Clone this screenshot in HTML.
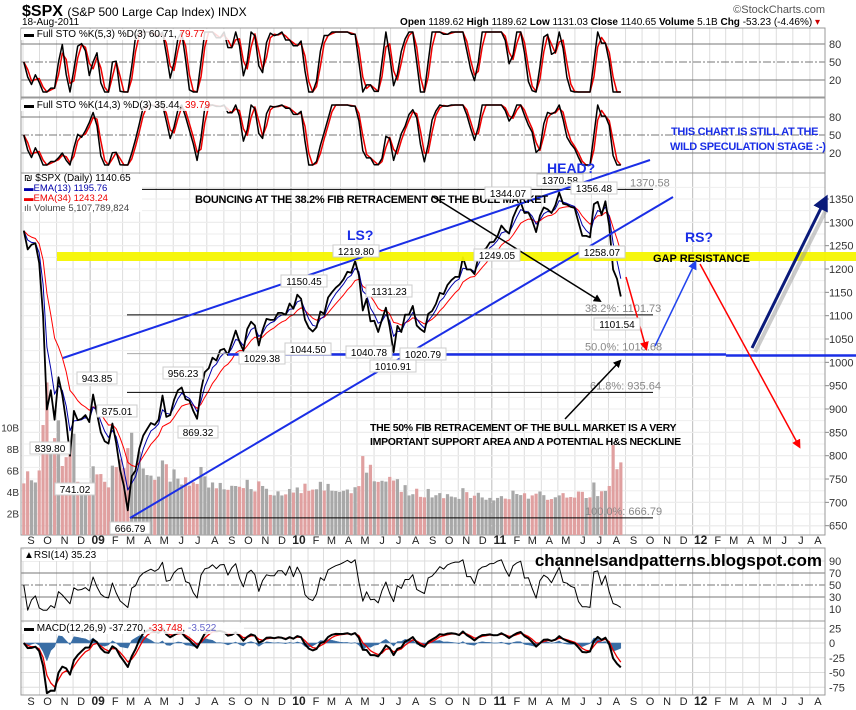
<!DOCTYPE html>
<html><head><meta charset="utf-8"><style>
html,body{margin:0;padding:0;background:#fff;}
svg{display:block;font-family:"Liberation Sans",sans-serif;}
</style></head><body>
<svg id="c" width="856" height="710" viewBox="0 0 856 710" xmlns="http://www.w3.org/2000/svg">
<g id="grid"></g>
<g id="marks"></g>
<g id="overlay"></g>
</svg>
<script>
// ---- data (weekly closes, S&P 500, ending 18-Aug-2011) ----
const closes = [1282,1242,1252,1255,1213,1099,899,940,877,968,930,873,800,896,876,879,887,872,931,890,850,831,826,869,827,770,735,683,756,768,816,843,857,870,866,877,929,883,887,919,940,946,921,918,896,879,940,979,987,1010,1004,1026,1029,1016,1042,1068,1044,1025,1071,1087,1079,1036,1069,1093,1091,1091,1106,1106,1102,1126,1115,1145,1136,1091,1074,1066,1075,1109,1104,1139,1150,1160,1167,1178,1194,1192,1217,1187,1111,1136,1088,1089,1065,1092,1117,1076,1022,1078,1065,1102,1102,1121,1079,1071,1065,1104,1110,1125,1149,1146,1166,1176,1183,1183,1225,1199,1199,1189,1225,1240,1244,1257,1258,1271,1293,1283,1276,1310,1329,1343,1320,1321,1304,1279,1314,1332,1328,1320,1337,1364,1340,1338,1333,1331,1300,1271,1271,1268,1339,1344,1316,1345,1292,1199,1179,1141];
const monthlyVolumeB = [6.0,7.5,6.2,5.3,5.3,5.8,6.6,6.2,6.0,5.6,5.2,5.2,4.8,4.8,4.6,4.6,4.6,5.0,4.8,4.8,6.2,5.3,4.6,4.2,4.2,4.2,4.3,4.0,4.0,4.3,4.2,4.0,4.3,4.3,4.4,6.8];
const monthLabels = ["S","O","N","D","09","F","M","A","M","J","J","A","S","O","N","D","10","F","M","A","M","J","J","A","S","O","N","D","11","F","M","A","M","J","J","A","S","O","N","D","12","F","M","A","M","J","J","A"];
const priceTicks = [1350,1300,1250,1200,1150,1100,1050,1000,950,900,850,800,750,700,650];
const volTicks = [10,8,6,4,2];
const stoTicks = [80,50,20];
const rsiTicks = [90,70,50,30,10];
const macdTicks = [25,0,-25,-50,-75];
const fibLevels = [1370.58,1101.73,1018.68,935.64,666.79];
const peakLabels = [["839.80",839.8,50,448],["741.02",741.02,75,489],["943.85",943.85,97,378],["875.01",875.01,117,411],["956.23",956.23,183,373],["869.32",869.32,198,432],["1029.38",1029.38,262,358],["1044.50",1044.5,308,349],["1150.45",1150.45,304,281],["1219.80",1219.8,356,251],["1131.23",1131.23,389,291],["1040.78",1040.78,369,352],["1010.91",1010.91,393,366],["1020.79",1020.79,423,354],["1249.05",1249.05,497,255],["1344.07",1344.07,508,193],["1370.58",1370.58,560,180],["1356.48",1356.48,594,188],["1258.07",1258.07,602,252],["1101.54",1101.54,617,324],["666.79",666.79,130,528]];

// ---- geometry ----
const X0=21, X1=825, MW=16.75, XS=23;
const startMs=Date.UTC(2008,8,1), endMs=Date.UTC(2011,7,18);
function xOfMs(ms){return XS+(ms-startMs)/86400000/30.44*MW;}
function xOfMonth(m){const d=Date.UTC(2008,8+m,1);return xOfMs(d);}
const n=closes.length;
function xi(i){return xOfMs(endMs-7*86400000*(n-1-i))+3;}
const py=p=>199+(1350-p)*0.4667;
const vy=v=>535-v*10.75;
const s1y=v=>44+(80-v)*0.6;
const s2y=v=>117+(80-v)*0.6;
const ry=v=>573+(70-v)*0.6;
const my=v=>643-v*0.59;
const panels=[[28,97],[98,173],[173,535],[548,621],[621,695]];

const NS="http://www.w3.org/2000/svg";
function mk(parent,tag,attrs,text){const e=document.createElementNS(NS,tag);for(const k in attrs)e.setAttribute(k,attrs[k]);if(text!==undefined)e.textContent=text;document.getElementById(parent).appendChild(e);return e;}
function line(par,x1,y1,x2,y2,st,w,extra){return mk(par,"line",Object.assign({x1,y1,x2,y2,stroke:st,"stroke-width":w||1},extra||{}));}
function txt(par,x,y,s,attrs){return mk(par,"text",Object.assign({x,y,"font-size":11,fill:"#222"},attrs||{}),s);}
function poly(par,pts,st,w){return mk(par,"polyline",{points:pts.map(p=>p[0].toFixed(1)+","+p[1].toFixed(1)).join(" "),fill:"none",stroke:st,"stroke-width":w,"stroke-linejoin":"round"});}

// ---- indicators (derived from closes) ----
function ema(a,p){const k=2/(p+1);const o=[];a.forEach((v,i)=>o.push(i?o[i-1]+k*(v-o[i-1]):v));return o;}
function sma(a,p){return a.map((v,i)=>{const s=a.slice(Math.max(0,i-p+1),i+1);return s.reduce((x,y)=>x+y,0)/s.length;});}
function sto(p){const raw=closes.map((c,i)=>{const w=closes.slice(Math.max(0,i-p),i+1);const lo=Math.min(...w),hi=Math.max(...w);return hi===lo?50:(c-lo)/(hi-lo)*100;});const k=sma(raw,2);return [k,sma(k,2)];}
function rsi(p){const o=[50];let ag=0,al=0;for(let i=1;i<n;i++){const d=closes[i]-closes[i-1];ag=(ag*(p-1)+Math.max(d,0))/p;al=(al*(p-1)+Math.max(-d,0))/p;o.push(al===0?90:100-100/(1+ag/al));}return o;}

// ---- grid & frames ----
for(let m=0;m<48;m++){const x=xOfMonth(m);if(x<X0||x>X1)continue;
  panels.forEach(([a,b])=>{const l=line("grid",x,a,x,b,monthLabels[m].length>1?"#bbb":"#ddd",1);});
  [544,705].forEach(yy=>{const t=txt("grid",x+8,yy,monthLabels[m],{"text-anchor":"middle","font-size":monthLabels[m].length>1?12:11,"font-weight":monthLabels[m].length>1?"bold":"normal",fill:"#222"});});
}
priceTicks.forEach(p=>{const y=py(p);line("grid",X0,y,X1,y,"#ddd",1);line("grid",X1,y,X1+4,y,"#888",1);const t=txt("grid",829,y+4,String(p),{"font-size":11,fill:"#333"});});
for(let p=1375;p>=650;p-=25){const y=py(p);if(y>173)line("grid",X0,y,X1,y,"#eee",1);}
volTicks.forEach(v=>{const y=vy(v);const t=txt("grid",19,y+4,v+"B",{"text-anchor":"end","font-size":10,fill:"#333"});});
[s1y,s2y].forEach(f=>{stoTicks.forEach(v=>{const y=f(v);line("grid",X0,y,X1,y,"#777",1,v===50?{"stroke-dasharray":"8,2,2,2"}:{});const t=txt("grid",829,y+4,String(v),{"font-size":11,fill:"#333"});});});
rsiTicks.forEach(v=>{const y=ry(v);if(v===70||v===30)line("grid",X0,y,X1,y,"#777",1);else if(v===50)line("grid",X0,y,X1,y,"#777",1,{"stroke-dasharray":"8,2,2,2"});else line("grid",X0,y,X1,y,"#ddd",1);const t=txt("grid",829,y+4,String(v),{"font-size":11,fill:"#333"});});
macdTicks.forEach(v=>{const y=my(v);line("grid",X0,y,X1,y,"#ddd",1);const t=txt("grid",829,y+4,String(v),{"font-size":11,fill:"#333"});});
panels.forEach(([a,b])=>{const r=mk("grid","rect",{x:X0,y:a,width:X1-X0,height:b-a,fill:"none",stroke:"#999","stroke-width":1});});

// ---- volume ----
closes.forEach((c,i)=>{const d=new Date(endMs-7*86400000*(n-1-i));const m=(d.getUTCFullYear()-2008)*12+d.getUTCMonth()-8;let v=monthlyVolumeB[Math.max(0,Math.min(monthlyVolumeB.length-1,m))];
  const chg=i>0?Math.abs(c-closes[i-1])/closes[i-1]:0; v=v*(0.8+chg*6);
  const x=xi(i);const up=i>0&&c>=closes[i-1];
  const r=mk("marks","rect",{x:x-1.6,y:vy(v),width:3.2,height:535-vy(v),fill:up?"#a8a8a8":"#e0a0a0"});
  });

// ---- price + EMAs ----
const e13=ema(closes,3), e34=ema(closes,8);
let pl=poly("marks",e34.map((v,i)=>[xi(i),py(v)]),"#f00",1);
pl=poly("marks",e13.map((v,i)=>[xi(i),py(v)]),"#00a",1);
pl=poly("marks",closes.map((v,i)=>[xi(i),py(v)]),"#000",1.8);

// ---- STO panels ----
const [k1,d1]=sto(3),[k2,d2]=sto(6);
[[k1,d1,s1y,"sto-fast"],[k2,d2,s2y,"sto-slow"]].forEach(([k,d,f,nm])=>{
  let a=poly("marks",d.map((v,i)=>[xi(i),f(v)]),"#e00",1.5);
  a=poly("marks",k.map((v,i)=>[xi(i),f(v)]),"#000",1.5);});

// ---- RSI ----
const rs=rsi(4);
pl=poly("marks",rs.map((v,i)=>[xi(i),ry(Math.max(8,Math.min(92,v)))]),"#000",1);

// ---- MACD ----
const ef=ema(closes,3), es=ema(closes,6);
const macd=ef.map((v,i)=>v-es[i]); const sig=ema(macd,3);
const clipM=v=>Math.max(-85,Math.min(32,v));
const hist=[[xi(0),my(0)]].concat(macd.map((v,i)=>[xi(i),my(clipM(v-sig[i]))])).concat([[xi(n-1),my(0)]]);
pl=mk("marks","polygon",{points:hist.map(p=>p[0].toFixed(1)+","+p[1].toFixed(1)).join(" "),fill:"#3a6ea5",stroke:"#3a6ea5","stroke-width":0.5});
pl=poly("marks",sig.map((v,i)=>[xi(i),my(clipM(v))]),"#e00",1.3);
pl=poly("marks",macd.map((v,i)=>[xi(i),my(clipM(v))]),"#000",2);

// ---- fib lines ----
fibLevels.forEach((f,j)=>{const y=py(f);const l=line("overlay",j===4?130:127,y,653,y,j===2?"#aaa":"#000",1);});
const fibTxt=[["1370.58",630],["38.2%: 1101.73",585],["50.0%: 1018.68",585],["61.8%: 935.64",590],["100.0%: 666.79",585]];
fibLevels.forEach((f,j)=>{const t=txt("overlay",fibTxt[j][1],py(f)-3,fibTxt[j][0],{"font-size":11,fill:"#888"});});
</script>
<script>
const O=document.getElementById("overlay");
O.insertAdjacentHTML("beforeend",`
<defs>
<marker id="ab" markerWidth="8" markerHeight="8" refX="6" refY="4" orient="auto" markerUnits="userSpaceOnUse"><path d="M0,0 L8,4 L0,8 z" fill="#000"/></marker>
<marker id="ar" markerWidth="9" markerHeight="9" refX="6" refY="4.5" orient="auto" markerUnits="userSpaceOnUse"><path d="M0,0 L9,4.5 L0,9 z" fill="#f00"/></marker>
<marker id="abl" markerWidth="9" markerHeight="9" refX="6" refY="4.5" orient="auto" markerUnits="userSpaceOnUse"><path d="M0,0 L9,4.5 L0,9 z" fill="#2244ee"/></marker>
<marker id="anv" markerWidth="16" markerHeight="16" refX="10" refY="8" orient="auto" markerUnits="userSpaceOnUse"><path d="M0,0 L16,8 L0,16 z" fill="#0a1a7a"/></marker>
</defs>
<rect x="57" y="252" width="799" height="9" fill="#f5f500" opacity="0.95"/>
<line x1="228" y1="354.5" x2="726" y2="354.5" stroke="#1a2ee6" stroke-width="2.5"/>
<line x1="726" y1="355.5" x2="856" y2="355.5" stroke="#1a2ee6" stroke-width="2.5"/>
<line x1="63" y1="358" x2="650" y2="160" stroke="#1a2ee6" stroke-width="2"/>
<line x1="130" y1="518" x2="673" y2="197" stroke="#1a2ee6" stroke-width="2"/>
<line x1="432" y1="196" x2="600" y2="301" stroke="#000" stroke-width="1.5" marker-end="url(#ab)"/>
<line x1="565" y1="419" x2="620" y2="361" stroke="#000" stroke-width="1.5" marker-end="url(#ab)"/>
<line x1="626" y1="277" x2="646" y2="348" stroke="#f00" stroke-width="1.5" marker-end="url(#ar)"/>
<line x1="655" y1="346" x2="695" y2="263" stroke="#2244ee" stroke-width="1.5" marker-end="url(#abl)"/>
<line x1="700" y1="264" x2="799" y2="446" stroke="#f00" stroke-width="1.5" marker-end="url(#ar)"/>
<line x1="755" y1="352" x2="826" y2="210" stroke="#999" stroke-width="4" opacity="0.5"/>
<line x1="752" y1="348" x2="825" y2="200" stroke="#0a1a7a" stroke-width="3" marker-end="url(#anv)"/>
<g font-family="Liberation Sans, sans-serif" font-weight="bold">
<text x="195" y="203" font-size="11" fill="#000" letter-spacing="-0.3">BOUNCING AT THE 38.2% FIB RETRACEMENT OF THE BULL MARKET</text>
<text x="347" y="240" font-size="14" fill="#1a2ee6">LS?</text>
<text x="547" y="173" font-size="14" fill="#1a2ee6">HEAD?</text>
<text x="685" y="242" font-size="14" fill="#1a2ee6">RS?</text>
<text x="653" y="262" font-size="11" fill="#000">GAP RESISTANCE</text>
<text x="671" y="135" font-size="11" fill="#1a2ee6" letter-spacing="-0.3">THIS CHART IS STILL AT THE</text>
<text x="670" y="150" font-size="11" fill="#1a2ee6" letter-spacing="-0.3">WILD SPECULATION STAGE :-)</text>
<text x="370" y="431" font-size="10.5" fill="#000" letter-spacing="-0.3">THE 50% FIB RETRACEMENT OF THE BULL MARKET IS A VERY</text>
<text x="370" y="445" font-size="10.5" fill="#000" letter-spacing="-0.3">IMPORTANT SUPPORT AREA AND A POTENTIAL H&amp;S NECKLINE</text>
<text x="822" y="566" font-size="17" fill="#000" text-anchor="end">channelsandpatterns.blogspot.com</text>
</g>
<text x="22" y="16" font-size="16" font-weight="bold" fill="#000">$SPX <tspan font-size="12" font-weight="normal">(S&amp;P 500 Large Cap Index) INDX</tspan></text>
<text x="22" y="25" font-size="10" fill="#000">18-Aug-2011</text>
<text x="825" y="13" font-size="11" fill="#555" text-anchor="end">©StockCharts.com</text>
<text x="820" y="25" font-size="10" fill="#000" text-anchor="end"><tspan font-weight="bold">Open</tspan> 1189.62 <tspan font-weight="bold">High</tspan> 1189.62 <tspan font-weight="bold">Low</tspan> 1131.03 <tspan font-weight="bold">Close</tspan> 1140.65 <tspan font-weight="bold">Volume</tspan> 5.1B <tspan font-weight="bold">Chg</tspan> -53.23 (-4.46%) <tspan fill="#c00">▾</tspan></text>
<rect x="21" y="29" width="210" height="11" fill="#fff" opacity="0.85"/>
<text x="24" y="37" font-size="10" fill="#000">▬ Full STO %K(5,3) %D(3) 60.71, <tspan fill="#e00">79.77</tspan></text>
<rect x="21" y="100" width="210" height="11" fill="#fff" opacity="0.85"/>
<text x="24" y="108" font-size="10" fill="#000">▬ Full STO %K(14,3) %D(3) 35.44, <tspan fill="#e00">39.79</tspan></text>
<rect x="22" y="174" width="120" height="38" fill="#fff"/>
<text x="24" y="181" font-size="10" fill="#000">₪ $SPX (Daily) 1140.65</text>
<text x="24" y="191" font-size="9.5" fill="#00a">▬EMA(13) 1195.76</text>
<text x="24" y="201" font-size="9.5" fill="#e00">▬EMA(34) 1243.24</text>
<text x="24" y="211" font-size="9.5" fill="#444">ılı Volume 5,107,789,824</text>
<rect x="22" y="550" width="85" height="11" fill="#fff"/>
<text x="24" y="558" font-size="10" fill="#000">▲RSI(14) 35.23</text>
<rect x="22" y="623" width="222" height="11" fill="#fff" opacity="0.85"/>
<text x="24" y="631" font-size="10" fill="#000">▬ MACD(12,26,9) -37.270, <tspan fill="#e00">-33.748</tspan>, <tspan fill="#66c">-3.522</tspan></text>
`);
peakLabels.forEach(([s,p,x,y])=>{
  const w=s.length*6+4;
  const r=document.createElementNS("http://www.w3.org/2000/svg","rect");
  r.setAttribute("x",x-w/2);r.setAttribute("y",y-6);r.setAttribute("width",w);r.setAttribute("height",12);r.setAttribute("fill","#fff");r.setAttribute("stroke","#ccc");
  
  
  O.appendChild(r);
  const t=document.createElementNS("http://www.w3.org/2000/svg","text");
  t.setAttribute("x",x);t.setAttribute("y",y+4);t.setAttribute("font-size","10");t.setAttribute("text-anchor","middle");t.setAttribute("fill","#000");t.textContent=s;
  
  
  O.appendChild(t);
});
</script>
</body></html>
